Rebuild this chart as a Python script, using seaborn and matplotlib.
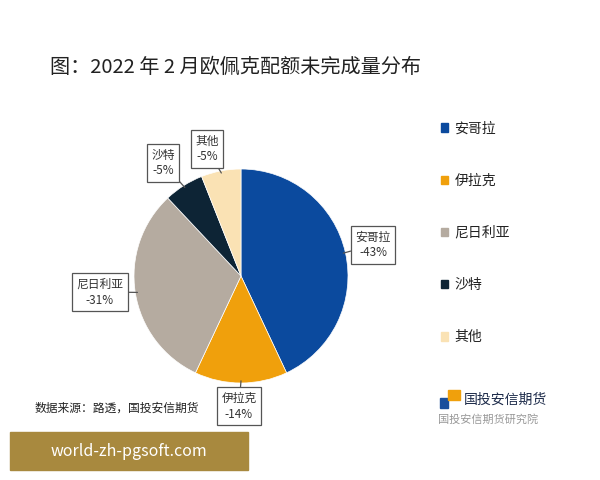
import matplotlib
matplotlib.use('Agg')
import matplotlib.pyplot as plt
import seaborn as sns
from matplotlib.patches import Rectangle
import numpy as np

# 数据
countries = ['安哥拉', '伊拉克', '尼日利亚', '沙特', '其他']
shares = [43, 14, 31, 6, 6]
share_labels = ['-43%', '-14%', '-31%', '-5%', '-5%']
colors = ['#0b4a9e', '#f0a00c', '#b5aba0', '#0d2435', '#fae2b4']

sns.set_theme(style='white')
plt.rcParams['font.family'] = ['Noto Sans CJK SC', 'DejaVu Sans']

fig = plt.figure(figsize=(6, 4.8), dpi=100)
fig.patch.set_facecolor('white')

# 饼图 (圆心约 241,276 像素, 半径约 107)
cx, cy, r = 241, 276, 107
ax = fig.add_axes([(cx - r) / 600, (480 - cy - r) / 480, 2 * r / 600, 2 * r / 480])
wedges, _ = ax.pie(shares, colors=colors, startangle=90, counterclock=False,
                   wedgeprops=dict(linewidth=0.5, edgecolor='white'))
ax.set_xlim(-1, 1)
ax.set_ylim(-1, 1)
ax.set_aspect('equal')
ax.axis('off')

# 标注框位置 (像素 -> 数据坐标)
box_px = [(373, 245), (239, 406), (100, 292), (163, 163), (207, 149)]
for w, name, lab, (px, py) in zip(wedges, countries, share_labels, box_px):
    ang = np.deg2rad((w.theta1 + w.theta2) / 2)
    tx, ty = (px - cx) / r, (cy - py) / r
    ax.annotate(name + '\n' + lab, xy=(0.98 * np.cos(ang), 0.98 * np.sin(ang)),
                xytext=(tx, ty), ha='center', va='center', fontsize=8.5,
                color='#333333', linespacing=1.3, annotation_clip=False,
                bbox=dict(boxstyle='square,pad=0.35', fc='white', ec='#555555', lw=0.9),
                arrowprops=dict(arrowstyle='-', color='#555555', lw=0.9,
                                shrinkA=0, shrinkB=0))

# 图例
handles = [Rectangle((0, 0), 1, 1, color=c) for c in colors]
fig.legend(handles, countries, loc='upper left', bbox_to_anchor=(428 / 600, 1 - 109 / 480),
           frameon=False, fontsize=10, labelspacing=2.75, handlelength=0.55,
           handleheight=0.55, handletextpad=0.45, labelcolor='#222222')

# 标题和来源
fig.text(50 / 600, 1 - 67 / 480, '图：2022 年 2 月欧佩克配额未完成量分布',
         fontsize=14.5, color='#222222', va='center', ha='left')
fig.text(35 / 600, 1 - 408 / 480, '数据来源：路透，国投安信期货',
         fontsize=8.5, color='#222222', va='center', ha='left')

# 右下角标志
fig.patches.append(Rectangle((440 / 600, 1 - 408 / 480), 8 / 600, 10 / 480,
                             transform=fig.transFigure, color='#1b4f9c'))
fig.patches.append(Rectangle((448 / 600, 1 - 400 / 480), 12 / 600, 10 / 480,
                             transform=fig.transFigure, color='#f0a00c'))
fig.text(464 / 600, 1 - 400 / 480, '国投安信期货', fontsize=10, color='#1d2b4a',
         va='center', ha='left')
fig.text(438 / 600, 1 - 419 / 480, '国投安信期货研究院', fontsize=8, color='#555555',
         va='center', ha='left', alpha=0.6)

# 水印条
fig.patches.append(Rectangle((10 / 600, 1 - 470 / 480), 238 / 600, 38 / 480,
                             transform=fig.transFigure, color='#a8893e'))
fig.text(129 / 600, 1 - 451 / 480, 'world-zh-pgsoft.com', fontsize=11.5,
         color='white', va='center', ha='center')

fig.savefig('out.png', dpi=100, facecolor='white')
